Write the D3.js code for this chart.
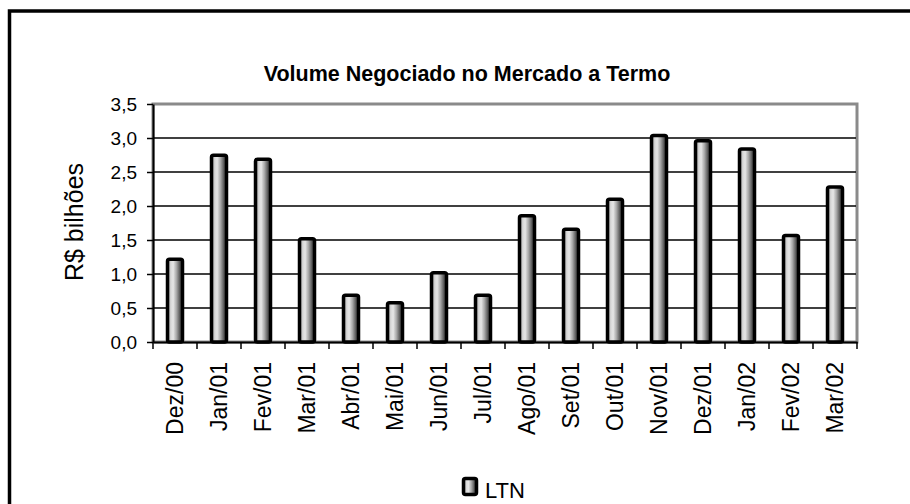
<!DOCTYPE html>
<html>
<head>
<meta charset="utf-8">
<script src="https://cdnjs.cloudflare.com/ajax/libs/d3/7.8.5/d3.min.js"></script>
<style>
    body { margin: 0; background: #fff; }
    svg { display: block; font-family: 'Liberation Sans', Arial, sans-serif; }
</style>
</head>
<body>
<svg id="canvas" width="910" height="504"></svg>
<script>
let months = ['Dez/00', 'Jan/01', 'Fev/01', 'Mar/01', 'Abr/01', 'Mai/01', 'Jun/01', 'Jul/01',
    'Ago/01', 'Set/01', 'Out/01', 'Nov/01', 'Dez/01', 'Jan/02', 'Fev/02', 'Mar/02']
let ltn = [1.24, 2.77, 2.71, 1.54, 0.71, 0.60, 1.04, 0.71,
    1.88, 1.68, 2.12, 3.06, 2.98, 2.86, 1.59, 2.30]
let yTicks = [0, 0.5, 1.0, 1.5, 2.0, 2.5, 3.0, 3.5]
let seriesName = 'LTN'
let title = 'Volume Negociado no Mercado a Termo'
let yTitle = 'R$ bilhões'

let canvas = d3.select('#canvas')

let plotLeft = 153, plotRight = 857, plotTop = 104, plotBottom = 342

let xScale = d3.scaleBand().domain(months).range([plotLeft, plotRight])
let yScale = d3.scaleLinear().domain([0, 3.5]).range([plotBottom, plotTop])

let fmt = (v) => d3.format('.1f')(v).replace('.', ',')

// gradient for the cylinder-ish bars
let defs = canvas.append('defs')
let grad = defs.append('linearGradient')
    .attr('id', 'barGrad')
    .attr('x1', '0%').attr('x2', '100%')
    .attr('y1', '0%').attr('y2', '0%')
let stops = [[0, '#8c8c8c'], [0.22, '#d8d8d8'], [0.38, '#e6e6e6'], [0.6, '#a8a8a8'], [0.82, '#5a5a5a'], [1, '#3c3c3c']]
stops.forEach((s) => {
    grad.append('stop').attr('offset', s[0]).attr('stop-color', s[1])
})

// outer frame (runs off the right and bottom edges)
canvas.append('rect')
    .attr('x', 9.5).attr('y', 11)
    .attr('width', 1000).attr('height', 1000)
    .attr('fill', 'none')
    .attr('stroke', '#000')
    .attr('stroke-width', 3.5)

// title
canvas.append('text')
    .attr('x', 467)
    .attr('y', 81)
    .attr('text-anchor', 'middle')
    .attr('font-weight', 'bold')
    .attr('font-size', 21.5)
    .text(title)

// plot area border (grey)
canvas.append('rect')
    .attr('x', plotLeft).attr('y', plotTop)
    .attr('width', plotRight - plotLeft).attr('height', plotBottom - plotTop)
    .attr('fill', 'none')
    .attr('stroke', '#8a8a8a')
    .attr('stroke-width', 3)

// gridlines
canvas.selectAll('.grid')
    .data(yTicks.filter((t) => t > 0 && t < 3.5))
    .enter()
    .append('line')
    .attr('class', 'grid')
    .attr('x1', plotLeft).attr('x2', plotRight - 1)
    .attr('y1', (d) => yScale(d)).attr('y2', (d) => yScale(d))
    .attr('stroke', '#000')
    .attr('stroke-width', 1.5)

// y axis
let yAxis = d3.axisLeft(yScale)
    .tickValues(yTicks)
    .tickFormat(fmt)
    .tickSize(6)
    .tickSizeOuter(0)
let yg = canvas.append('g')
    .attr('transform', `translate(${plotLeft},0)`)
    .call(yAxis)
yg.select('.domain').attr('stroke', '#000').attr('stroke-width', 2)
yg.selectAll('.tick line').attr('stroke', '#000').attr('stroke-width', 1.5)
yg.selectAll('.tick text')
    .attr('font-size', 19)
    .attr('font-family', "'Liberation Sans', Arial, sans-serif")
    .attr('fill', '#000')
    .attr('x', -16)

// x axis, labels rotated
let xAxis = d3.axisBottom(xScale).tickSize(0).tickSizeOuter(0)
let xg = canvas.append('g')
    .attr('transform', `translate(0,${plotBottom})`)
    .call(xAxis)
xg.select('.domain').attr('stroke', '#000').attr('stroke-width', 2)
xg.selectAll('.tick text')
    .attr('font-size', 23)
    .attr('font-family', "'Liberation Sans', Arial, sans-serif")
    .attr('fill', '#000')
    .attr('text-anchor', 'end')
    .attr('dy', null)
    .attr('y', 0)
    .attr('transform', 'translate(8,20) rotate(-90)')

// x ticks sit on band edges
canvas.selectAll('.xtick')
    .data(months.concat(['end']))
    .enter()
    .append('line')
    .attr('class', 'xtick')
    .attr('x1', (d, i) => i < months.length ? xScale(d) : plotRight)
    .attr('x2', (d, i) => i < months.length ? xScale(d) : plotRight)
    .attr('y1', plotBottom).attr('y2', plotBottom + 7)
    .attr('stroke', '#000')
    .attr('stroke-width', 1.5)

// bars
let barW = 15
canvas.selectAll('.bar')
    .data(ltn)
    .enter()
    .append('rect')
    .attr('class', 'bar')
    .attr('x', (d, i) => xScale(months[i]) + xScale.bandwidth() / 2 - barW / 2)
    .attr('y', (d) => yScale(d) + 1.5)
    .attr('width', barW)
    .attr('height', (d) => plotBottom - yScale(d) - 1.5)
    .attr('rx', 2)
    .attr('fill', 'url(#barGrad)')
    .attr('stroke', '#000')
    .attr('stroke-width', 3.5)

// y axis title
canvas.append('text')
    .attr('transform', 'translate(83,222) rotate(-90)')
    .attr('text-anchor', 'middle')
    .attr('font-size', 25)
    .text(yTitle)

// legend
canvas.append('rect')
    .attr('x', 463.5).attr('y', 478.5)
    .attr('width', 13).attr('height', 16)
    .attr('rx', 2)
    .attr('fill', 'url(#barGrad)')
    .attr('stroke', '#000')
    .attr('stroke-width', 3.5)
canvas.append('text')
    .attr('x', 485)
    .attr('y', 498)
    .attr('font-size', 22)
    .text(seriesName)
</script>
</body>
</html>
